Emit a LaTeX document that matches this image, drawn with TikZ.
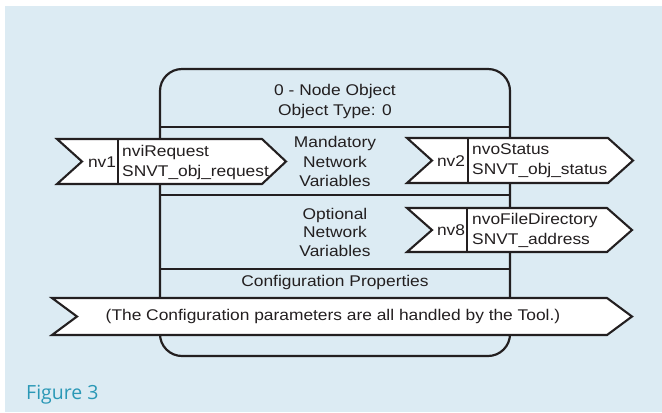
\documentclass[tikz,border=0pt]{standalone}
\usepackage{fontspec}
\setmainfont{Liberation Sans}[FakeStretch=1.12]
\newfontfamily\captionfont{Open Sans}
\definecolor{panel}{HTML}{DCEBF3}
\definecolor{ink}{HTML}{231F20}
\definecolor{figteal}{HTML}{2A98B6}
\tikzset{
  body/.style={draw=ink, line width=2.2bp},
  flag/.style={draw=ink, fill=white, line width=2.1bp, line join=miter},
  sep/.style={draw=ink, line width=2.1bp},
  label/.style={font=\fontsize{15.5bp}{19.5bp}\selectfont, text=ink, inner sep=0pt, align=center},
  vartext/.style={label, align=left, anchor=west, font=\fontsize{15.5bp}{20bp}\selectfont},
}
% one flag: left, notch x, right, tip x, top, bottom
\newcommand\drawflag[6]{%
  \draw[flag] (#1,#5) -- (#3,#5) -- (#4,{(#5+#6)/2}) -- (#3,#6) -- (#1,#6)
    -- (#2,{(#5+#6)/2}) -- cycle;}
\begin{document}
\begin{tikzpicture}[x=1bp, y=-1bp]
  \useasboundingbox (0,0) rectangle (662,412);
  \fill[panel] (5,6) rectangle (662,412);

  % node object frame and its section lines
  \draw[body, rounded corners=22bp] (160,69) rectangle (510,356);
  \draw[sep] (160,127) -- (510,127);
  \draw[sep] (160,195) -- (510,195);
  \draw[sep] (160,269) -- (510,269);

  \node[label, font=\fontsize{15.5bp}{20bp}\selectfont] (title) at (335,101) {0 - Node Object\\Object Type: 0};
  \node[label] (mand) at (335,161.5) {Mandatory\\Network\\Variables};
  \node[label, font=\fontsize{15.5bp}{18.5bp}\selectfont] (opt) at (335,232) {Optional\\Network\\Variables};
  \node[label] (cfg) at (335,282.5) {Configuration Properties};

  % nv1 input
  \drawflag{57}{82}{262}{286}{139}{184}
  \draw[sep] (118,139) -- (118,184);
  \node[label] (nv1) at (102,162) {nv1};
  \node[vartext] (nviRequest) at (122,162) {nviRequest\\SNVT\_obj\_request};

  % nv2 output
  \drawflag{407}{432}{608}{633}{138}{183}
  \draw[sep] (468,138) -- (468,183);
  \node[label] (nv2) at (451,161) {nv2};
  \node[vartext] (nvoStatus) at (472,161) {nvoStatus\\SNVT\_obj\_status};

  % nv8 output
  \drawflag{407}{432}{607}{632}{208}{252}
  \draw[sep] (467,208) -- (467,252);
  \node[label] (nv8) at (451,230) {nv8};
  \node[vartext] (nvoFileDirectory) at (472,230) {nvoFileDirectory\\SNVT\_address};

  % configuration band
  \drawflag{52}{77}{607}{632}{298}{335}
  \node[label] (cfgnote) at (333,316.5) {(The Configuration parameters are all handled by the Tool.)};

  \node[anchor=base west, inner sep=0pt, text=figteal, font=\captionfont\fontsize{19.5bp}{22bp}\selectfont] (fig) at (26,399) {Figure 3};
\end{tikzpicture}
\end{document}
